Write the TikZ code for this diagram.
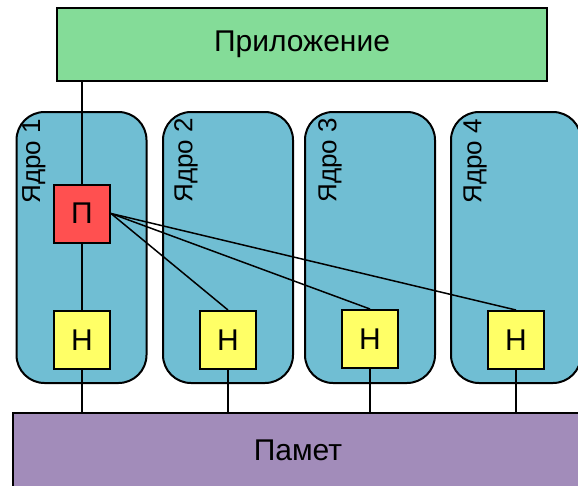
\documentclass[tikz,border=0pt]{standalone}
\usepackage{fontspec}
\setmainfont{Liberation Sans}
\definecolor{appgreen}{RGB}{132,220,152}
\definecolor{coreblue}{RGB}{112,190,211}
\definecolor{pred}{RGB}{255,80,80}
\definecolor{hyellow}{RGB}{255,255,102}
\definecolor{mempurple}{RGB}{162,140,186}
\begin{document}
\begin{tikzpicture}[x=1pt,y=-1pt,
  lw/.style={line width=2pt},
  app/.style={draw, lw, fill=appgreen, minimum width=490pt, minimum height=73pt, inner sep=0pt, font=\fontsize{30}{32}\selectfont},
  core/.style={draw, lw, fill=coreblue, rounded corners=28pt, minimum width=130pt, minimum height=271pt, inner sep=0pt},
  corelabel/.style={rotate=90, anchor=east, inner sep=0pt, font=\fontsize{26}{28}\selectfont},
  unit/.style={draw, lw, minimum width=56pt, minimum height=58pt, inner sep=0pt, font=\fontsize{30}{32}\selectfont},
  pbox/.style={unit, fill=pred},
  hbox/.style={unit, fill=hyellow},
  mem/.style={draw, lw, fill=mempurple, minimum width=570pt, minimum height=74pt, inner sep=0pt, font=\fontsize{30}{32}\selectfont},
  link/.style={line width=1.5pt}]
\useasboundingbox (0,0) rectangle (578,485);
\clip (0,0) rectangle (578,485);
% cores
\node[core] (c1) at (81.5,247.5) {};
\node[core] (c2) at (228,247.5) {};
\node[core] (c3) at (370,247.5) {};
\node[core] (c4) at (516,247.5) {};
\node[corelabel] (l1) at (34,119) {Ядро 1};
\node[corelabel] (l2) at (186,118) {Ядро 2};
\node[corelabel] (l3) at (330,118) {Ядро 3};
\node[corelabel] (l4) at (475,119) {Ядро 4};
% application and memory
\node[app] (app) at (302,44.5) {Приложение};
\node[mem] (mem) at (298,450) {Памет};
% units
\node[pbox] (p) at (82,213.5) {П};
\node[hbox] (h1) at (82,340) {Н};
\node[hbox] (h2) at (228,340) {Н};
\node[hbox] (h3) at (370,339) {Н};
\node[hbox] (h4) at (516,340) {Н};
% links
\draw[link] (p.north |- app.south) -- (p.north);
\draw[link] (p.south) -- (h1.north);
\draw[link] (p.east) -- (h2.north);
\draw[link] (p.east) -- (h3.north);
\draw[link] (p.east) -- (h4.north);
\draw[link] (h1.south) -- (h1.south |- mem.north);
\draw[link] (h2.south) -- (h2.south |- mem.north);
\draw[link] (h3.south) -- (h3.south |- mem.north);
\draw[link] (h4.south) -- (h4.south |- mem.north);
\end{tikzpicture}
\end{document}
